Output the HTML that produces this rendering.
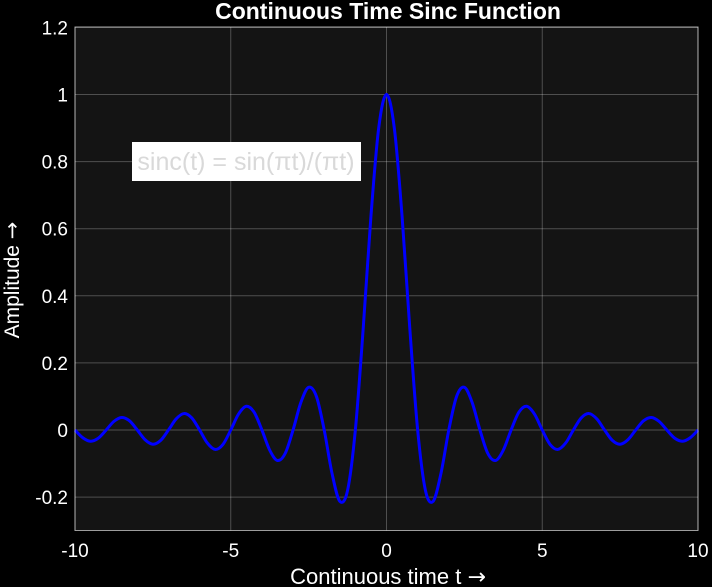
<!DOCTYPE html>
<html><head><meta charset="utf-8"><style>
body{margin:0;background:#000;}
svg{display:block;font-family:"Liberation Sans",sans-serif;}
.ar{font-family:"DejaVu Sans",sans-serif;}
</style></head><body>
<svg id="chart" width="712" height="587">
<rect x="0" y="0" width="712" height="587" fill="#000"/>
<rect x="75" y="27" width="623" height="503.5" fill="#141414"/>
<g id="grid"></g>
<g id="ticks"></g>
<path id="curve" fill="none" stroke="#0000ff" stroke-width="3"/>
<rect x="75" y="27" width="623" height="503.5" fill="none" stroke="#ffffff" stroke-opacity="0.6" stroke-width="1"/>
<rect x="132" y="142" width="229" height="39" fill="#ffffff"/>
<text x="246" y="170" text-anchor="middle" font-size="25" fill="#d9d9d9">sinc(t) = sin(πt)/(πt)</text>
<text x="388" y="19" text-anchor="middle" font-size="23" font-weight="bold" fill="#fff">Continuous Time Sinc Function</text>
<text x="388" y="584" text-anchor="middle" font-size="22" fill="#fff">Continuous time t <tspan class="ar">→</tspan></text>
<text transform="translate(19,280) rotate(-90)" text-anchor="middle" font-size="21" fill="#fff">Amplitude <tspan class="ar">→</tspan></text>
</svg>
<script>
const xTicks=[-10,-5,0,5,10];
const yTicks=[-0.2,0,0.2,0.4,0.6,0.8,1,1.2];
const yTickLabels=["-0.2","0","0.2","0.4","0.6","0.8","1","1.2"];
const tStart=-10, tStep=0.25;
const values=[0,-0.0231,-0.0335,-0.0243,0,0.0257,0.0374,0.0273,0,-0.0290,-0.0424,-0.0310,0,0.0333,0.0490,0.0360,0,-0.0391,-0.0579,-0.0429,0,0.0474,0.0707,0.0530,0,-0.0600,-0.0909,-0.0693,0,0.0818,0.1273,0.1000,0,-0.1286,-0.2122,-0.1801,0,0.3001,0.6366,0.9003,1,
0.9003,0.6366,0.3001,0,-0.1801,-0.2122,-0.1286,0,0.1000,0.1273,0.0818,0,-0.0693,-0.0909,-0.0600,0,0.0530,0.0707,0.0474,0,-0.0429,-0.0579,-0.0391,0,0.0360,0.0490,0.0333,0,-0.0310,-0.0424,-0.0290,0,0.0273,0.0374,0.0257,0,-0.0243,-0.0335,-0.0231,0];
const NS='http://www.w3.org/2000/svg';
const X=t=>75+(t+10)*31.15;
const Y=v=>430-v*335.5;
const grid=document.getElementById('grid'), ticks=document.getElementById('ticks');
xTicks.forEach(t=>{
  const l=document.createElementNS(NS,'line');
  
  
  l.setAttribute('x1',X(t));l.setAttribute('x2',X(t));l.setAttribute('y1',27);l.setAttribute('y2',530.5);
  l.setAttribute('stroke','#fff');l.setAttribute('stroke-opacity','0.25');grid.appendChild(l);
  const tx=document.createElementNS(NS,'text');
  
  
  tx.setAttribute('x',X(t));tx.setAttribute('y',557);tx.setAttribute('text-anchor','middle');
  tx.setAttribute('font-size','19');tx.setAttribute('fill','#fff');tx.textContent=String(t);ticks.appendChild(tx);
});
yTicks.forEach((v,i)=>{
  const l=document.createElementNS(NS,'line');
  
  
  l.setAttribute('x1',75);l.setAttribute('x2',698);l.setAttribute('y1',Y(v));l.setAttribute('y2',Y(v));
  l.setAttribute('stroke','#fff');l.setAttribute('stroke-opacity','0.25');grid.appendChild(l);
  const tx=document.createElementNS(NS,'text');
  
  
  tx.setAttribute('x',68);tx.setAttribute('y',Y(v)+7);tx.setAttribute('text-anchor','end');
  tx.setAttribute('font-size','19');tx.setAttribute('fill','#fff');tx.textContent=yTickLabels[i];ticks.appendChild(tx);
});
const pts=values.map((v,i)=>[X(tStart+i*tStep),Y(v)]);
let d='M'+pts[0][0]+','+pts[0][1];
for(let i=0;i<pts.length-1;i++){
  const p0=pts[Math.max(0,i-1)],p1=pts[i],p2=pts[i+1],p3=pts[Math.min(pts.length-1,i+2)];
  const c1=[p1[0]+(p2[0]-p0[0])/6,p1[1]+(p2[1]-p0[1])/6];
  const c2=[p2[0]-(p3[0]-p1[0])/6,p2[1]-(p3[1]-p1[1])/6];
  d+=` C${c1[0]},${c1[1]} ${c2[0]},${c2[1]} ${p2[0]},${p2[1]}`;
}
document.getElementById('curve').setAttribute('d',d);
</script>
</body></html>
